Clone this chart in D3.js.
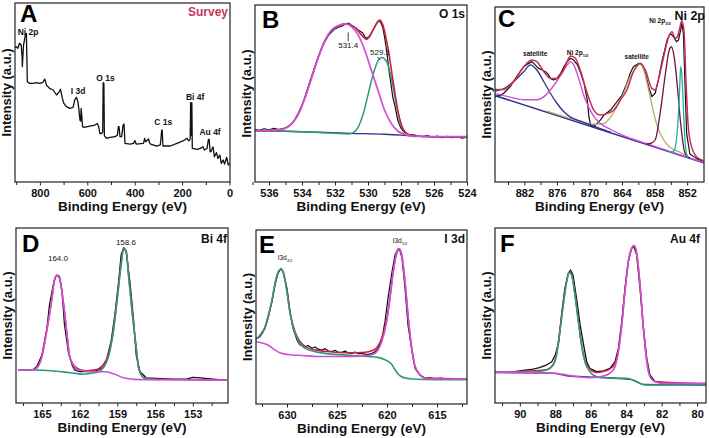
<!DOCTYPE html>
<html><head><meta charset="utf-8">
<script src="https://cdn.jsdelivr.net/npm/d3@7/dist/d3.min.js"></script>
<style>
html,body{margin:0;padding:0;background:#fff;}
svg{display:block;}
text{font-family:"Liberation Sans",Arial,Helvetica,sans-serif;}
</style></head><body>
<svg id="fig" width="709" height="438"></svg>
<script>
// ================= DATA (binding energy eV, intensity a.u. 0-100) =================
const panelLetters = ["A","B","C","D","E","F"];
const panelTitles  = ["Survey","O 1s","Ni 2p","Bi 4f","I 3d","Au 4f"];
const xAxisTitle = "Binding Energy (eV)";
const yAxisTitle = "Intensity (a.u.)";

// tick labels
const ticksA = [800,600,400,200,0];           const minorA = [900,700,500,300,100];
const ticksB = [536,534,532,530,528,526,524]; const minorB = [537,535,533,531,529,527,525];
const ticksC = [882,876,870,864,858,852];     const minorC = [885,879,873,867,861,855];
const ticksD = [165,162,159,156,153];         const minorD = [166.5,163.5,160.5,157.5,154.5,151.5];
const ticksE = [630,625,620,615];             const minorE = [632.5,627.5,622.5,617.5,612.5];
const ticksF = [90,88,86,84,82,80];           const minorF = [91,89,87,85,83,81];

// A: survey spectrum
const surveyData = [
[905,75.0],[900,75.6],[893,74.7],[886,77.5],[879,76.5],[875,70],[874,64.4],[871,72],[869,76.5],[864,80.0],[861,82.5],[857,83.0],[855,70.0],[853,56.0],[843,55.1],[829,55.1],[815,55.5],[801,55.1],[787,55.7],[780,57.5],[775,55.5],[773,54.2],[759,52.3],[744,51.4],[730,48.6],[719,50.4],[713,51.8],[705,46.7],[699,43.9],[688,42.1],[674,41.1],[660,41.7],[653,45.8],[646,47.3],[640,45.0],[636,41.1],[631,34.6],[628,34.0],[626,41.1],[623,36.5],[620,30.9],[614,30.5],[589,31.2],[568,31.8],[558,32.7],[552,30.9],[547,27.1],[540,27.1],[535,28.0],[533,55.5],[530,55.1],[528,26.0],[525,25.3],[518,24.4],[504,24.9],[483,25.3],[473,26.2],[469,30.9],[466,30.9],[462,25.3],[455,25.3],[449,31.8],[445,32.4],[441,21.6],[420,21.2],[405,21.6],[399,23.1],[394,21.2],[363,21.6],[358,24.4],[354,22.5],[341,24.0],[338,22.0],[333,21.2],[307,20.1],[292,20.7],[286,29.0],[284,29.0],[281,20.1],[250,20.1],[222,21.6],[194,23.1],[180,24.5],[172,23.0],[166,24.0],[164,44.3],[162,26.0],[160,30.0],[159,44.3],[157,18.8],[137,18.2],[123,18.8],[112,19.7],[106,17.9],[95,18.8],[89,23.8],[86,23.8],[82,17.0],[78,16.9],[72,19.2],[69,19.5],[64,14.1],[55,16.4],[49,13.2],[41,15.1],[35,10.4],[27,12.3],[21,10.0],[12,13.8],[5,9.5],[-2,10.5]
];
const surveyLabels = [
 {t:"Ni 2p",x:850,y:82.2},{t:"I 3d",x:639,y:49.2},{t:"O 1s",x:523,y:56.4},
 {t:"C 1s",x:280,y:31.8},{t:"Bi 4f",x:145,y:45.8},{t:"Au 4f",x:82,y:26.3}
];

// B: O 1s
const o1sData = [
[536.85,29.8],[536.6,29.2],[536.3,30.1],[536.0,29.5],[535.7,30.3],[535.4,29.6],[535.0,30.6],[534.8,31.6],[534.6,33.0],[534.4,35.8],[534.2,39.4],[534.0,43.4],[533.8,48.8],[533.6,54.5],[533.4,60.2],[533.2,65.8],[533.0,71.2],[532.8,75.8],[532.6,79.5],[532.4,82.8],[532.2,84.9],[532.05,86.3],[531.9,86.9],[531.75,87.6],[531.6,88.0],[531.45,88.9],[531.3,89.0],[531.2,89.8],[531.1,89.3],[531.0,88.3],[530.9,87.8],[530.75,87.0],[530.6,85.9],[530.45,85.0],[530.3,84.0],[530.2,82.0],[530.1,81.2],[530.0,81.8],[529.9,82.1],[529.8,84.0],[529.7,85.9],[529.6,87.5],[529.5,89.3],[529.4,90.5],[529.3,91.1],[529.2,89.6],[529.1,87.0],[529.0,82.1],[528.9,76.0],[528.8,68.9],[528.7,61.0],[528.6,54.8],[528.5,48.0],[528.36,42.6],[528.2,35.1],[528.1,32.5],[528.0,30.4],[527.85,28.5],[527.75,27.9],[527.55,26.9],[527.35,26.7],[527.15,26.5],[527.0,26.0],[526.7,25.6],[526.4,26.2],[526.1,25.3],[525.8,25.9],[525.5,25.0],[525.2,25.8],[524.9,25.1],[524.6,25.7],[524.3,24.8],[524.0,25.3]
];
const o1sEnvelope = [[536.85,28.8],[536,29.0],[535,30.4],[534.6,33.2],[534.2,38.8],[533.8,48.2],[533.4,59.5],[533.0,70.8],[532.6,80.2],[532.2,85.9],[531.8,88.3],[531.4,89.4],[531.1,88.8],[530.8,87.4],[530.4,83.1],[530.1,80.6],[529.8,84.0],[529.5,89.3],[529.3,91.5],[529.1,88.7],[528.77,74.6],[528.46,55.7],[528.16,38.8],[527.86,29.8],[527.55,26.9],[527.15,26.0],[526,25.6],[524,25.6]];
const o1sPeak531 = [[536.85,28.8],[536,29.0],[535,30.4],[534.6,33.2],[534.2,38.8],[533.8,48.2],[533.4,59.5],[533.0,70.8],[532.6,80.2],[532.2,85.9],[531.8,88.2],[531.4,89.3],[531.0,87.8],[530.6,83.1],[530.2,74.6],[529.8,63.2],[529.4,51.9],[529.0,40.7],[528.6,33.2],[528.2,28.8],[527.75,26.9],[527.35,26.0],[526,25.6],[524,25.6]];
const o1sPeak529 = [[536.85,29.4],[534,28.4],[532,27.5],[531.2,27.1],[530.9,27.9],[530.58,31.3],[530.28,38.8],[529.98,50.1],[529.67,61.4],[529.37,68.9],[529.17,70.4],[528.87,68.0],[528.56,57.6],[528.26,42.6],[527.96,31.3],[527.65,27.1],[527.35,26.0],[527.05,25.6]];
const o1sBackground = [[536.85,29.0],[534,28.4],[531,27.5],[529,27.0],[528,26.5],[527,25.8],[524,25.4]];
const o1sLabels = [{t:"531.4",x:531.2,y:75.7},{t:"529.1",x:529.27,y:71.8}];

// C: Ni 2p
const ni2pData = [
[887.4,48.8],[886.4,49.5],[885.8,50.7],[884.6,54.5],[883.4,60.2],[882.1,65.9],[881.2,67.8],[880.6,68.8],[880.0,66.9],[879.4,64.9],[878.7,64.0],[878.1,63.0],[877.6,61.5],[877.2,59.2],[876.6,58.3],[876.0,59.2],[875.3,62.1],[874.7,65.9],[874.1,68.8],[873.5,70.7],[872.9,69.7],[872.2,66.9],[871.6,62.1],[871.0,56.4],[870.4,46.9],[870.1,37.3],[869.8,32.6],[869.3,31.6],[868.9,32.6],[868.6,33.5],[868.0,35.4],[867.3,38.3],[866.1,41.1],[864.9,46.0],[864.0,49.7],[863.1,56.4],[862.5,62.1],[861.9,65.9],[860.9,67.8],[860.3,66.9],[859.7,62.1],[859.1,54.5],[858.5,48.8],[857.9,50.7],[857.3,58.3],[856.6,69.7],[855.7,81.1],[855.1,84.9],[854.5,83.0],[854.0,80.2],[853.6,81.1],[853.2,86.9],[853.0,90.7],[852.7,84.9],[852.4,56.4],[852.1,27.8],[851.5,16.0],[850.3,13.5],[849.0,11.6]
];
const ni2pEnvelope = [[887.4,52.9],[885.8,52.9],[884.0,57.3],[882.1,65.9],[880.6,69.7],[879.7,68.8],[878.4,63.0],[877.2,59.2],[876.0,59.2],[874.7,64.4],[873.5,72.0],[872.6,70.7],[871.6,63.0],[870.4,50.7],[869.2,41.1],[868.0,38.3],[866.7,39.2],[865.5,41.1],[864.3,46.9],[863.1,52.6],[861.9,63.0],[860.6,67.8],[859.7,63.9],[858.5,53.5],[857.9,52.6],[857.3,58.3],[856.3,72.0],[855.4,83.0],[854.8,85.9],[854.2,82.1],[853.8,83.0],[853.3,88.8],[853.0,92.2],[852.6,86.9],[852.2,56.4],[851.8,31.6],[851.2,20.2],[850.3,14.5],[849.0,12.2]];
const ni2pBaseline = [[887.4,49.4],[849.0,11.0]];
const ni2pSat880 = [[887.4,52.0],[885.8,53.3],[884.0,57.3],[882.1,63.0],[880.9,66.9],[879.7,64.0],[878.4,57.3],[877.2,50.7],[876.0,45.0],[874.7,40.1],[873.5,37.1],[872.2,35.4],[871.0,34.0],[869.8,32.6],[868.0,30.5],[866,28.3]];
const ni2pPeak873 = [[887.4,50.5],[884.6,48.5],[882.1,47.0],[879.7,47.0],[878.1,49.5],[876.6,55.0],[875.3,61.1],[874.1,66.9],[873.5,68.8],[872.9,66.9],[871.9,58.3],[871.0,49.0],[870.1,42.5],[869.2,37.5],[868.0,33.5],[866.1,30.0],[863.7,26.5],[860,22.5],[849,11.2]];
const ni2pSat861 = [[878,40.6],[872,35.0],[869,33.0],[867.3,33.5],[865.5,40.0],[863.7,50.7],[862.5,60.2],[861.2,65.9],[860.7,67.8],[860.0,64.0],[859.1,52.6],[858.2,40.0],[857.3,30.0],[856.0,22.5],[854.5,18.5],[853.3,17.0],[852,14.5]];
const ni2pPeak855 = [[859.5,21.8],[858.8,22.0],[857.9,24.0],[856.9,41.1],[856.0,62.1],[855.3,75.4],[854.9,77.3],[854.4,71.6],[853.8,54.5],[853.2,33.5],[852.4,16.5],[851.5,13.5]];
const ni2pPeak853 = [[855.5,17.5],[854.9,17.2],[854.4,18.0],[853.8,30.0],[853.5,45.0],[853.3,60.0],[853.2,65.9],[853.0,62.0],[852.8,50.0],[852.6,35.0],[852.4,24.0],[852.1,16.0],[851.8,14.0]];
const ni2pLabels = [{t:"satellite",x:880.0,y:72.0},{t:"Ni 2p",sub:"1/2",x:872.2,y:72.6},{t:"satellite",x:861.3,y:70.3},{t:"Ni 2p",sub:"3/2",x:857.0,y:90.9}];

// D: Bi 4f
const bi4fData = [[166.9,18.9],[166.2,18.9],[165.7,19.2],[165.4,20.8],[165.0,27.4],[164.6,42.7],[164.4,56.0],[164.1,67.4],[163.9,72.2],[163.8,73.1],[163.6,72.2],[163.4,63.6],[163.2,44.6],[162.9,29.3],[162.6,21.7],[162.4,18.9],[162.0,17.9],[161.2,17.9],[160.7,18.3],[160.3,19.8],[159.9,23.6],[159.5,35.0],[159.2,50.3],[158.9,69.3],[158.7,84.6],[158.5,88.8],[158.3,86.5],[158.0,69.3],[157.7,46.5],[157.5,27.4],[157.2,17.9],[156.7,14.4],[155.9,14.1],[154.6,13.7],[153.5,13.7],[153.0,14.6],[152.4,14.4],[151.4,13.7],[150.3,13.1]];
const bi4fEnvelope = [[166.9,18.9],[165.7,19.0],[165.3,21.0],[165.0,26.8],[164.6,42.0],[164.2,60.0],[164.0,70.5],[163.8,73.0],[163.6,71.4],[163.3,58.0],[163.0,39.0],[162.8,27.0],[162.5,22.0],[162.1,19.5],[161.5,18.5],[160.9,18.8],[160.5,19.5],[160.1,22.0],[159.7,28.0],[159.3,42.5],[159.0,60.5],[158.7,79.5],[158.5,88.5],[158.3,87.0],[158.1,72.5],[157.8,50.8],[157.5,31.5],[157.3,20.0],[156.9,14.5],[156.4,13.8],[155,13.4],[150.3,13.1]];
const bi4fPeak164 = [[166.9,18.9],[165.7,18.9],[165.3,20.8],[165.0,26.5],[164.6,41.7],[164.2,59.8],[164.0,70.3],[163.8,72.8],[163.6,71.2],[163.3,57.9],[163.0,38.8],[162.8,26.5],[162.5,21.7],[162.1,18.9],[160.9,17.9],[159.9,17.9],[159.2,16.4],[158.5,14.4],[157.7,13.5],[156.4,13.3],[155,13.3],[150.3,13.1]];
const bi4fPeak158 = [[166.9,18.9],[165.7,18.9],[164.1,18.3],[163.0,17.5],[162.2,16.8],[161.7,16.4],[161.1,17.0],[160.5,17.9],[160.1,20.2],[159.7,26.5],[159.3,41.7],[159.0,59.8],[158.7,78.9],[158.5,88.1],[158.3,86.5],[158.1,72.0],[157.8,50.3],[157.5,31.2],[157.3,19.8],[156.9,14.4],[156.4,13.7],[155.6,13.3]];
const bi4fLabels = [{t:"164.0",x:163.72,y:81.1},{t:"158.6",x:158.32,y:90.3}];

// E: I 3d
const i3dData = [[633.1,37.7],[632.7,38.7],[632.2,43.5],[631.9,49.2],[631.5,58.8],[631.2,68.4],[630.9,75.1],[630.6,77.9],[630.4,76.0],[630.0,66.5],[629.7,53.1],[629.4,43.5],[629.0,36.8],[628.7,33.9],[628.4,33.5],[628.2,32.9],[627.9,33.6],[627.5,32.0],[627.2,32.8],[626.9,31.5],[626.5,31.0],[626.2,31.8],[625.9,30.6],[625.5,30.1],[625.2,30.9],[624.9,29.9],[624.5,29.7],[624.2,30.4],[623.9,29.4],[623.5,29.1],[623.2,29.9],[622.9,28.9],[622.5,29.1],[622.2,28.7],[621.9,28.5],[621.5,29.0],[621.2,30.1],[620.9,32.0],[620.5,37.7],[620.2,47.3],[619.9,60.7],[619.5,76.0],[619.2,85.6],[618.9,89.0],[618.7,88.0],[618.5,83.7],[618.2,66.5],[617.9,45.4],[617.5,30.1],[617.2,20.5],[616.7,16.7],[616.2,14.8],[615.8,15.2],[615.2,14.4],[614.6,14.9],[614.0,14.2],[613.5,14.6],[612.8,14.1],[612.0,14.5]];
const i3dEnvelope = [[633.1,37.5],[632.7,39.0],[632.2,44.0],[631.9,50.0],[631.5,59.5],[631.2,69.0],[630.87,76.0],[630.6,77.6],[630.37,75.7],[630.03,65.8],[629.7,52.8],[629.2,41.5],[628.7,36.0],[628.2,33.2],[627.2,31.0],[625.2,29.8],[623.5,29.5],[622.5,29.6],[621.87,30.0],[621.2,31.5],[620.53,38.0],[620.03,48.5],[619.7,61.5],[619.37,76.5],[619.03,87.0],[618.8,89.3],[618.53,85.8],[618.2,70.5],[617.87,49.5],[617.53,32.3],[617.2,21.8],[616.7,16.8],[616.2,14.9],[612,14.4]];
const i3dPeak630 = [[633.1,37.3],[632.7,39.7],[632.2,44.4],[631.9,50.2],[631.5,59.8],[631.2,69.3],[630.87,76.0],[630.6,77.5],[630.37,75.6],[630.03,65.5],[629.7,52.2],[629.2,40.6],[628.7,34.9],[628.2,32.0],[627.2,30.1],[625.2,28.5],[623.5,27.9],[621.9,27.3],[620.9,26.8],[620.2,25.4],[619.5,22.6],[619.2,19.7],[618.9,17.2],[618.4,15.3],[617.5,14.4],[615.2,14.0],[612,14.0]];
const i3dPeak619 = [[633.1,35.8],[632.7,35.4],[631.9,33.9],[631.2,31.0],[630.53,29.1],[629.53,28.2],[628.53,27.9],[626.87,27.3],[625.2,27.3],[623.53,27.3],[621.87,27.9],[621.2,29.1],[620.53,35.8],[620.03,47.3],[619.7,60.7],[619.37,76.0],[619.03,86.6],[618.8,89.0],[618.53,85.6],[618.2,70.3],[617.87,49.2],[617.53,32.0],[617.2,21.6],[616.7,16.7],[616.2,14.8],[615.2,14.4],[612,14.4]];
const i3dLabels = [{t:"I3d",sub:"3/2",x:630.2,y:82.8},{t:"I3d",sub:"5/2",x:618.7,y:92.5}];

// F: Au 4f
const au4fData = [[91.4,17.5],[90.6,17.5],[90.0,18.3],[89.6,18.9],[89.25,19.4],[88.9,20.2],[88.5,21.7],[88.2,23.6],[88.0,27.4],[87.8,35.0],[87.65,50.3],[87.46,65.5],[87.27,74.1],[87.14,76.0],[87.0,73.1],[86.8,59.8],[86.6,44.6],[86.4,33.1],[86.23,23.6],[86.05,19.8],[85.67,17.9],[85.29,18.3],[84.92,19.8],[84.63,23.6],[84.44,31.2],[84.25,46.5],[84.07,65.5],[83.88,80.8],[83.69,88.4],[83.56,89.3],[83.41,84.6],[83.22,65.5],[83.03,42.7],[82.84,25.5],[82.66,16.0],[82.37,12.2],[81.9,11.2],[81.15,11.2],[80.4,10.9],[79.5,10.9]];
const au4fEnvelope = [[91.4,17.5],[88.5,19.0],[88.12,22.0],[87.93,28.0],[87.74,41.5],[87.55,56.5],[87.36,69.5],[87.21,74.8],[87.08,73.5],[86.89,62.0],[86.7,47.0],[86.52,33.5],[86.33,24.5],[86.05,19.5],[85.67,17.5],[85.29,18.0],[84.92,19.5],[84.63,22.5],[84.44,30.0],[84.25,45.0],[84.07,64.0],[83.88,81.0],[83.69,88.6],[83.56,90.0],[83.41,85.6],[83.22,67.5],[83.03,43.0],[82.84,24.0],[82.66,15.3],[82.37,12.3],[79.5,11.0]];
const au4fPeak87 = [[91.4,17.5],[90.0,17.5],[89.06,17.9],[88.49,18.9],[88.12,21.7],[87.93,27.4],[87.74,41.0],[87.55,56.0],[87.36,69.3],[87.21,74.5],[87.08,73.1],[86.89,61.7],[86.7,46.5],[86.52,33.1],[86.33,23.6],[86.05,17.9],[85.67,15.0],[85.29,14.5],[84.54,14.1],[83.97,14.1],[83.6,13.1],[83.22,11.2],[82.84,10.3],[81.53,10.3],[79.5,10.3]];
const au4fPeak83 = [[91.4,17.5],[90.0,17.5],[88.12,17.0],[87.36,16.0],[86.61,14.9],[86.05,14.5],[85.48,15.0],[84.92,17.0],[84.63,20.8],[84.44,29.3],[84.25,44.6],[84.07,63.6],[83.88,80.8],[83.69,88.4],[83.56,89.9],[83.41,85.5],[83.22,67.4],[83.03,42.7],[82.84,23.6],[82.66,15.0],[82.37,12.2],[81.9,11.2],[79.5,11.2]];
const au4fBackground = [[91.4,17.5],[88.12,17.0],[87.36,15.6],[86.42,15.0],[85.29,14.5],[84.44,14.1],[83.78,13.5],[83.41,12.2],[83.03,10.6],[79.5,10.3]];

// ================= STYLE / LAYOUT =================
const C = {black:"#111111", red:"#c8223f", pink:"#cf4fd6", green:"#2e9a78", navy:"#2b3488",
           olive:"#b2ae6a", maroon:"#6e1441", teal:"#22b396", redC:"#cc2d58", survey:"#c8345e"};
const FONT = '"Liberation Sans",Arial,Helvetica,sans-serif';

const panels = [
 {box:[15,230,3,182], dom:[905,-2], major:ticksA, minor:minorA, letterXY:[20,22], titleXY:[228,16], titleSize:12, titleColor:C.survey,
  series:[{d:surveyData,c:C.black,w:1.3}], labels:surveyLabels, labelSize:8.5, labelWeight:"bold"},
 {box:[255,467,5,182], dom:[536.85,524], major:ticksB, minor:minorB, letterXY:[262,28], titleXY:[465,18], titleSize:12, titleColor:"#111",
  series:[{d:o1sData,c:C.black,w:1.2},{d:o1sBackground,c:C.navy,w:1.4,s:1},{d:o1sPeak529,c:C.green,w:1.5,s:1},
          {d:o1sEnvelope,c:C.red,w:1.6,s:1},{d:o1sPeak531,c:C.pink,w:1.7,s:1}],
  labels:o1sLabels, labelSize:8, labelWeight:"normal"},
 {box:[495,704,7,182], dom:[887.4,848.9], major:ticksC, minor:minorC, letterXY:[498,27], titleXY:[705,20], titleSize:12.5, titleColor:"#111",
  series:[{d:ni2pData,c:C.black,w:1.2},{d:ni2pBaseline,c:C.navy,w:1.6},{d:ni2pSat861,c:C.olive,w:1.3,s:1},
          {d:ni2pSat880,c:C.navy,w:1.3,s:1},{d:ni2pPeak873,c:C.pink,w:1.4,s:1},{d:ni2pPeak855,c:C.maroon,w:1.3,s:1},
          {d:ni2pPeak853,c:C.teal,w:1.3,s:1},{d:ni2pEnvelope,c:C.redC,w:1.5,s:1}],
  labels:ni2pLabels, labelSize:6.5, labelWeight:"bold"},
 {box:[16,228,228,403], dom:[167.06,150.2], major:ticksD, minor:minorD, letterXY:[22,252], titleXY:[227,243], titleSize:12, titleColor:"#111",
  series:[{d:bi4fData,c:C.black,w:1.3},{d:bi4fEnvelope,c:C.red,w:1.5,s:1},{d:bi4fPeak158,c:C.green,w:1.6,s:1},{d:bi4fPeak164,c:C.pink,w:1.6,s:1}],
  labels:bi4fLabels, labelSize:8, labelWeight:"normal"},
 {box:[256,467,230,404], dom:[633.1,612], major:ticksE, minor:minorE, letterXY:[259,253], titleXY:[465,243], titleSize:12, titleColor:"#111",
  series:[{d:i3dData,c:C.black,w:1.2},{d:i3dEnvelope,c:C.red,w:1.5,s:1},{d:i3dPeak630,c:C.green,w:1.6,s:1},{d:i3dPeak619,c:C.pink,w:1.6,s:1}],
  labels:i3dLabels, labelSize:6.5, labelWeight:"normal"},
 {box:[495,706,228,403], dom:[91.4,79.5], major:ticksF, minor:minorF, letterXY:[500,252], titleXY:[700,243], titleSize:12, titleColor:"#111",
  series:[{d:au4fData,c:C.black,w:1.3},{d:au4fBackground,c:C.navy,w:1.4,s:1},{d:au4fEnvelope,c:C.red,w:1.5,s:1},{d:au4fPeak87,c:C.green,w:1.6,s:1},{d:au4fPeak83,c:C.pink,w:1.6,s:1}],
  labels:[], labelSize:8, labelWeight:"normal"}
];

const svg = d3.select("#fig");

panels.forEach((p, i) => {
  const [x0,x1,y0,y1] = p.box;
  const x = d3.scaleLinear().domain(p.dom).range([x0,x1]);
  const y = d3.scaleLinear().domain([0,100]).range([y1,y0]);
  const g = svg.append("g");
  const cid = "clip" + i;
  svg.append("clipPath").attr("id", cid).append("rect")
     .attr("x", x0).attr("y", y0).attr("width", x1-x0).attr("height", y1-y0);
  const plot = g.append("g").attr("clip-path", `url(#${cid})`);
  p.series.forEach(s => {
    const line = d3.line().x(d => x(d[0])).y(d => y(d[1]))
      .curve(s.s ? d3.curveMonotoneX : d3.curveLinear);
    plot.append("path").attr("d", line(s.d)).attr("fill","none")
      .attr("stroke", s.c).attr("stroke-width", s.w).attr("stroke-linejoin","round");
  });
  // frame
  g.append("rect").attr("x",x0).attr("y",y0).attr("width",x1-x0).attr("height",y1-y0)
    .attr("fill","none").attr("stroke","#222").attr("stroke-width",1.2);
  // axes
  const gMin = g.append("g").attr("transform",`translate(0,${y1})`)
    .call(d3.axisBottom(x).tickValues(p.minor).tickSize(3).tickFormat(""));
  gMin.select(".domain").remove();
  const gMaj = g.append("g").attr("transform",`translate(0,${y1})`)
    .call(d3.axisBottom(x).tickValues(p.major).tickSize(3.5).tickPadding(4).tickFormat(d3.format("d")));
  gMaj.select(".domain").remove();
  [gMin,gMaj].forEach(a => a.selectAll("line").attr("stroke","#222").attr("stroke-width",1));
  gMaj.attr("font-family", FONT).attr("font-size", 11).attr("font-weight","bold");
  gMaj.selectAll("text").attr("fill","#111");
  // axis titles
  g.append("text").attr("x",(x0+x1)/2).attr("y",y1+29).attr("text-anchor","middle")
    .attr("font-size",13.5).attr("font-weight","bold").attr("fill","#111").text(xAxisTitle);
  g.append("text").attr("transform",`translate(${x0-9},${(y0+y1)/2}) rotate(-90)`)
    .attr("text-anchor","middle").attr("dominant-baseline","central")
    .attr("font-size",13).attr("font-weight","bold").attr("fill","#111").text(yAxisTitle);
  // panel letter
  g.append("text").attr("x",p.letterXY[0]).attr("y",p.letterXY[1]).attr("font-size",24)
    .attr("font-weight","bold").attr("fill","#000").text(panelLetters[i]);
  // panel title
  g.append("text").attr("x",p.titleXY[0]).attr("y",p.titleXY[1]).attr("text-anchor","end")
    .attr("font-size",p.titleSize).attr("font-weight","bold").attr("fill",p.titleColor).text(panelTitles[i]);
  // peak labels
  p.labels.forEach(l => {
    const t = g.append("text").attr("x",x(l.x)).attr("y",y(l.y)).attr("text-anchor","middle")
      .attr("font-size",p.labelSize).attr("font-weight",p.labelWeight).attr("fill","#111");
    t.append("tspan").text(l.t);
    if (l.sub) t.append("tspan").attr("font-size",p.labelSize*0.62).attr("dy",2).text(l.sub);
  });
  // arrows in O 1s panel
  if (i === 1) {
    const ar = [[531.2,79.5,531.2,84.5],[529.45,70.6,529.25,69.0]];
    ar.forEach(a => g.append("line").attr("x1",x(a[0])).attr("y1",y(a[1])).attr("x2",x(a[2])).attr("y2",y(a[3]))
      .attr("stroke","#111").attr("stroke-width",0.8));
  }
});
</script>
</body></html>
